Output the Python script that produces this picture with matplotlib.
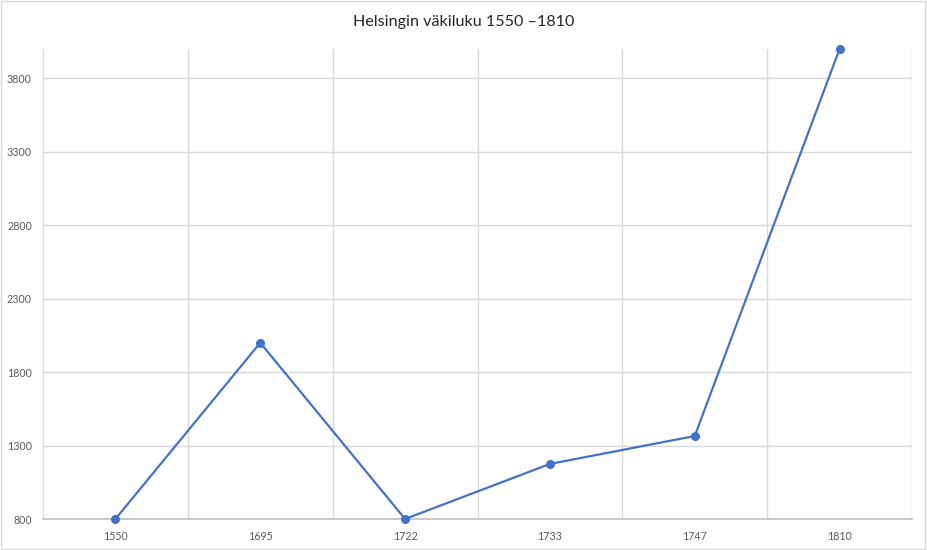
"""Helsingin väkiluku 1550–1810 – Excel-style line chart."""

import matplotlib.pyplot as plt
from matplotlib.patches import Rectangle

YEARS = ["1550", "1695", "1722", "1733", "1747", "1810"]
POPULATION = [800, 2000, 800, 1175, 1365, 4000]
Y_TICKS = [800, 1300, 1800, 2300, 2800, 3300, 3800]

LINE_COLOR = "#4472C4"
GRID_COLOR = "#D9D9D9"
TEXT_COLOR = "#595959"

plt.rcParams["font.family"] = ["Lato", "DejaVu Sans"]


def main() -> None:
    fig = plt.figure(figsize=(9.27, 5.5), dpi=100)
    ax = fig.add_axes([43 / 927, 1 - 519 / 550, 869 / 927, 470 / 550])

    x = list(range(len(YEARS)))
    ax.plot(x, POPULATION, color=LINE_COLOR, linewidth=1.6,
            marker="o", markersize=5.5, zorder=3, clip_on=False)

    ax.set_xlim(-0.5, len(YEARS) - 0.5)
    ax.set_ylim(800, 4000)
    ax.set_xticks(x)
    ax.set_xticklabels(YEARS)
    ax.set_yticks(Y_TICKS)

    # category borders as vertical gridlines
    for b in range(len(YEARS) + 1):
        ax.axvline(b - 0.5, color=GRID_COLOR, linewidth=1, zorder=1)
    ax.grid(axis="y", color=GRID_COLOR, linewidth=1, zorder=1)

    for side in ["top", "right", "left"]:
        ax.spines[side].set_visible(False)
    ax.spines["bottom"].set_color("#BFBFBF")
    ax.spines["bottom"].set_linewidth(1.2)

    ax.tick_params(axis="both", length=0, labelsize=7.7, colors=TEXT_COLOR)
    ax.tick_params(axis="x", pad=9)
    ax.tick_params(axis="y", pad=8)

    fig.text(0.5, 1 - 22 / 550, "Helsingin väkiluku 1550 –1810",
             ha="center", va="center", fontsize=11.6, color="#262626")

    fig.patches.append(Rectangle((0.001, 0.002), 0.997, 0.996,
                                 transform=fig.transFigure, fill=False,
                                 edgecolor="#D9D9D9", linewidth=1))

    fig.savefig("out.png", dpi=100)
    plt.close(fig)


if __name__ == "__main__":
    main()
